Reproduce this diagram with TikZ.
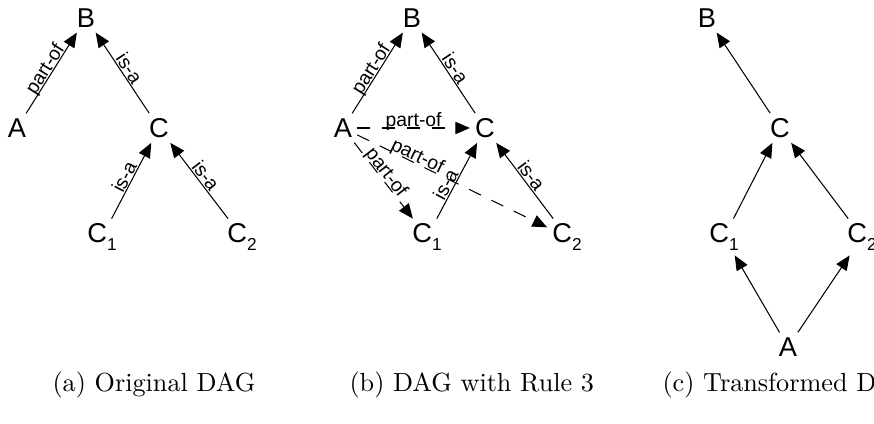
\documentclass[tikz,border=0pt]{standalone}
\usepackage{fontspec}
\newfontfamily\arial{Liberation Sans}
\usepackage{tikz}
\usetikzlibrary{arrows.meta}

\newcommand{\csub}[1]{\raisebox{-2.8pt}{\fontsize{6.6}{7}\selectfont #1}}

\begin{document}
\begin{tikzpicture}[x=0.382pt,y=-0.382pt,
		concept/.style={font=\arial\fontsize{10.4}{12}\selectfont,inner sep=1.8pt},
		edge/.style={-{Triangle[length=5.6pt,width=4.7pt]},line width=0.4pt},
		derived/.style={edge,dash pattern=on 5pt off 4.5pt},
		rel/.style={font=\arial\fontsize{7.4}{8}\selectfont,sloped,anchor=base,inner sep=0pt,yshift=0.6pt},
		caption/.style={anchor=base west,inner sep=0pt},
		]
		\clip (0,0) rectangle (874,424);
		\useasboundingbox (0,0) rectangle (874,424);

		% (a) original DAG
		\node[concept](aB) at (86,18) {B};
		\node[concept](aA) at (17,128) {A};
		\node[concept](aC) at (159,128) {C};
		\node[concept](aC1) at (102,237) {C\csub{1}};
		\node[concept](aC2) at (242,237) {C\csub{2}};

		\draw[edge] (aA) -- node[rel]{part-of} (aB);
		\draw[edge] (aC) -- node[rel]{is-a} (aB);
		\draw[edge] (aC1) -- node[rel]{is-a} (aC);
		\draw[edge] (aC2) -- node[rel]{is-a} (aC);

		% (b) with the derived part-of edges
		\node[concept](bB) at (412,18) {B};
		\node[concept](bA) at (343,128) {A};
		\node[concept](bC) at (485,128) {C};
		\node[concept](bC1) at (427,237) {C\csub{1}};
		\node[concept](bC2) at (567,237) {C\csub{2}};

		\draw[edge] (bA) -- node[rel]{part-of} (bB);
		\draw[edge] (bC) -- node[rel]{is-a} (bB);
		\draw[edge] (bC1) -- node[rel,pos=0.4]{is-a} (bC);
		\draw[edge] (bC2) -- node[rel]{is-a} (bC);
		\draw[derived] (bA) -- node[rel]{part-of} (bC);
		\draw[derived] (bA) -- node[rel,pos=0.3]{part-of} (bC2);
		\draw[derived] (bA) -- node[rel,pos=0.45]{part-of} (bC1);

		% (c) transformed DAG
		\node[concept](cB) at (707,18) {B};
		\node[concept](cC) at (780,128) {C};
		\node[concept](cC1) at (724,237) {C\csub{1}};
		\node[concept](cC2) at (862,237) {C\csub{2}};
		\node[concept](cA) at (788,347) {A};

		\draw[edge] (cC) -- (cB);
		\draw[edge] (cC1) -- (cC);
		\draw[edge] (cC2) -- (cC);
		\draw[edge] (cA) -- (cC1);
		\draw[edge] (cA) -- (cC2);

		\node[caption](capa) at (52,392) {(a) Original DAG};
		\node[caption](capb) at (349,392) {(b) DAG with Rule 3};
		\node[caption](capc) at (662,392) {(c) Transformed DAG};
	\end{tikzpicture}
\end{document}
